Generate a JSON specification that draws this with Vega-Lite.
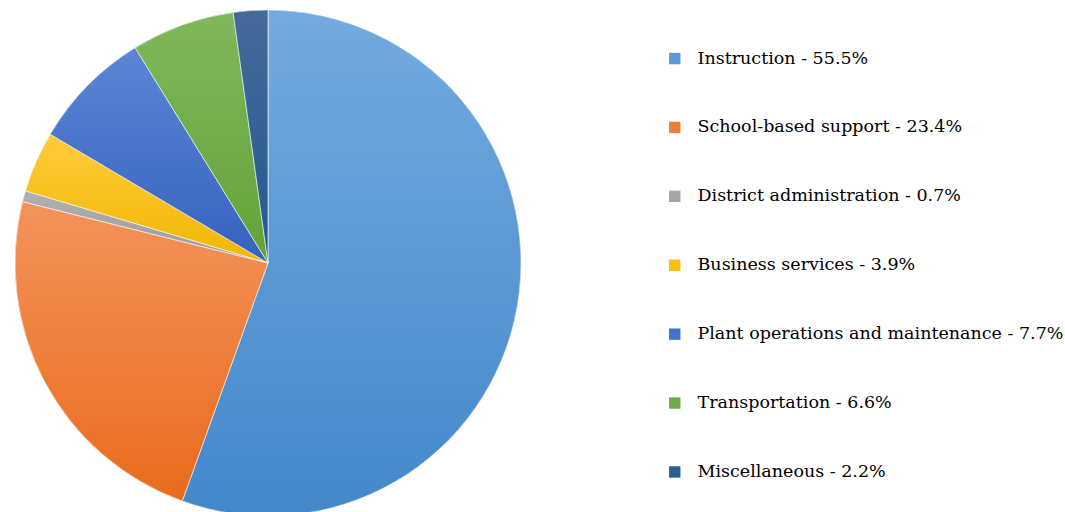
{
  "$schema": "https://vega.github.io/schema/vega-lite/v6.json",
  "width": 536,
  "height": 504,
  "padding": {"left": 0, "top": 8, "right": 0, "bottom": 0},
  "background": "white",
  "config": {"view": {"stroke": null}, "font": "DejaVu Serif", "legend": {"labelFont": "DejaVu Serif"}},
  "data": {
    "values": [
      {"category": "Instruction - 55.5%", "value": 55.5, "order": 1},
      {"category": "School-based support - 23.4%", "value": 23.4, "order": 2},
      {"category": "District administration - 0.7%", "value": 0.7, "order": 3},
      {"category": "Business services - 3.9%", "value": 3.9, "order": 4},
      {"category": "Plant operations and maintenance - 7.7%", "value": 7.7, "order": 5},
      {"category": "Transportation - 6.6%", "value": 6.6, "order": 6},
      {"category": "Miscellaneous - 2.2%", "value": 2.2, "order": 7}
    ]
  },
  "transform": [
    {"stack": "value", "groupby": [], "sort": [{"field": "order", "order": "ascending"}], "as": ["v0", "v1"]}
  ],
  "encoding": {
    "theta": {"field": "v0", "type": "quantitative", "scale": {"domain": [0, 100]}},
    "theta2": {"field": "v1"}
  },
  "layer": [
    {
      "mark": {"type": "arc", "radius": 253},
      "encoding": {
        "color": {
          "field": "category",
          "type": "nominal",
          "scale": {
            "domain": [
              "Instruction - 55.5%",
              "School-based support - 23.4%",
              "District administration - 0.7%",
              "Business services - 3.9%",
              "Plant operations and maintenance - 7.7%",
              "Transportation - 6.6%",
              "Miscellaneous - 2.2%"
            ],
            "range": ["#5A9AD6", "#EE7E33", "#A5A5A5", "#FBBF10", "#4472C7", "#6FAC48", "#2C5E93"]
          },
          "legend": {
            "title": null,
            "orient": "none",
            "legendX": 666,
            "legendY": 38.8,
            "symbolType": "square",
            "symbolSize": 130,
            "symbolStrokeWidth": 0,
            "symbolOpacity": 1,
            "labelFont": "DejaVu Serif",
            "labelFontSize": 17.5,
            "labelColor": "#000000",
            "labelOffset": 14,
            "labelLimit": 500,
            "rowPadding": 49.9
          }
        }
      }
    },
    {"transform": [{"filter": "datum.order == 1"}], "mark": {"type": "arc", "radius": 253, "stroke": "#ffffff", "strokeWidth": 0.6, "color": {"gradient": "linear", "x1": 0, "y1": 0, "x2": 0, "y2": 1, "stops": [{"offset": 0, "color": "#73AADF"}, {"offset": 1, "color": "#4388CA"}]}}},
    {"transform": [{"filter": "datum.order == 2"}], "mark": {"type": "arc", "radius": 253, "stroke": "#ffffff", "strokeWidth": 0.6, "color": {"gradient": "linear", "x1": 0, "y1": 0, "x2": 0, "y2": 1, "stops": [{"offset": 0, "color": "#F4935C"}, {"offset": 1, "color": "#E96B1C"}]}}},
    {"transform": [{"filter": "datum.order == 3"}], "mark": {"type": "arc", "radius": 253, "stroke": "#ffffff", "strokeWidth": 0.6, "color": {"gradient": "linear", "x1": 0, "y1": 0, "x2": 0, "y2": 1, "stops": [{"offset": 0, "color": "#B0B0B0"}, {"offset": 1, "color": "#9C9C9C"}]}}},
    {"transform": [{"filter": "datum.order == 4"}], "mark": {"type": "arc", "radius": 253, "stroke": "#ffffff", "strokeWidth": 0.6, "color": {"gradient": "linear", "x1": 0, "y1": 0, "x2": 0, "y2": 1, "stops": [{"offset": 0, "color": "#FFCB3C"}, {"offset": 1, "color": "#F1B700"}]}}},
    {"transform": [{"filter": "datum.order == 5"}], "mark": {"type": "arc", "radius": 253, "stroke": "#ffffff", "strokeWidth": 0.6, "color": {"gradient": "linear", "x1": 0, "y1": 0, "x2": 0, "y2": 1, "stops": [{"offset": 0, "color": "#5C86D4"}, {"offset": 1, "color": "#3562BF"}]}}},
    {"transform": [{"filter": "datum.order == 6"}], "mark": {"type": "arc", "radius": 253, "stroke": "#ffffff", "strokeWidth": 0.6, "color": {"gradient": "linear", "x1": 0, "y1": 0, "x2": 0, "y2": 1, "stops": [{"offset": 0, "color": "#80B85C"}, {"offset": 1, "color": "#62A238"}]}}},
    {"transform": [{"filter": "datum.order == 7"}], "mark": {"type": "arc", "radius": 253, "stroke": "#ffffff", "strokeWidth": 0.6, "color": {"gradient": "linear", "x1": 0, "y1": 0, "x2": 0, "y2": 1, "stops": [{"offset": 0, "color": "#46699B"}, {"offset": 1, "color": "#225A8E"}]}}}
  ]
}
